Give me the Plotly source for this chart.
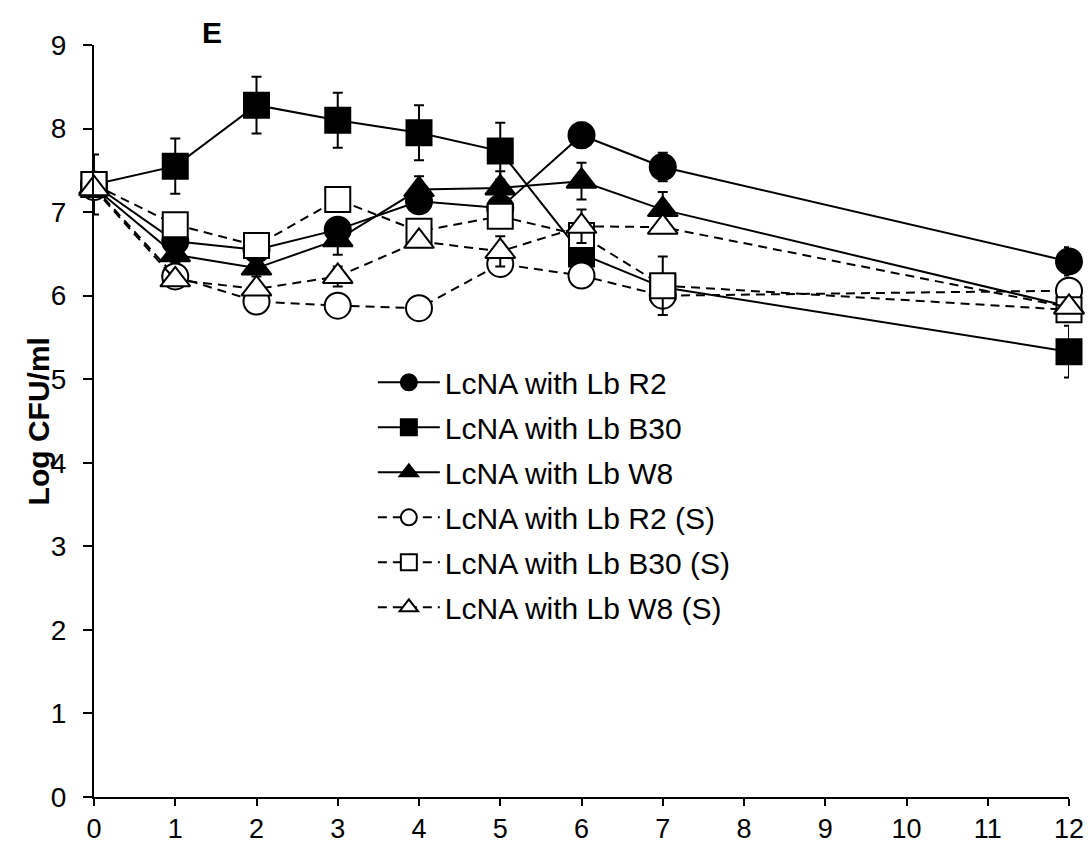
import plotly.graph_objects as go

days = [0, 1, 2, 3, 4, 5, 6, 7, 12]

r2 = [7.33, 6.65, 6.55, 6.79, 7.13, 7.05, 7.92, 7.54, 6.41]
r2_err = [0.05, 0.08, 0.05, 0.10, 0.10, 0.05, 0.15, 0.17, 0.17]

b30 = [7.33, 7.55, 8.28, 8.10, 7.95, 7.73, 6.50, 6.10, 5.33]
b30_err = [0.36, 0.33, 0.34, 0.33, 0.33, 0.34, 0.15, 0.10, 0.31]

w8 = [7.30, 6.49, 6.33, 6.67, 7.27, 7.29, 7.37, 7.03, 5.87]
w8_err = [0.05, 0.10, 0.10, 0.18, 0.16, 0.20, 0.22, 0.21, 0.10]

r2s = [7.30, 6.23, 5.93, 5.88, 5.85, 6.38, 6.24, 6.00, 6.06]
r2s_err = [0.05, 0.05, 0.05, 0.05, 0.05, 0.05, 0.05, 0.05, 0.05]

b30s = [7.33, 6.85, 6.60, 7.15, 6.77, 6.95, 6.72, 6.12, 5.83]
b30s_err = [0.05, 0.05, 0.05, 0.05, 0.05, 0.05, 0.05, 0.35, 0.05]

w8s = [7.28, 6.19, 6.08, 6.23, 6.65, 6.53, 6.83, 6.82, 5.86]
w8s_err = [0.05, 0.05, 0.05, 0.12, 0.05, 0.18, 0.20, 0.05, 0.05]

names = ["LcNA with Lb R2", "LcNA with Lb B30", "LcNA with Lb W8",
         "LcNA with Lb R2 (S)", "LcNA with Lb B30 (S)", "LcNA with Lb W8 (S)"]
series = [r2, b30, w8, r2s, b30s, w8s]
errors = [r2_err, b30_err, w8_err, r2s_err, b30s_err, w8s_err]
symbols = ["circle", "square", "triangle-up", "circle", "square", "triangle-up"]
fills = ["black", "black", "black", "white", "white", "white"]
dashes = ["solid", "solid", "solid", "9px,6px", "9px,6px", "9px,6px"]
sizes = [26, 25, 26, 26, 25, 26]

FONT = "Liberation Sans, Arial, sans-serif"

fig = go.Figure()
for i in range(6):
    fig.add_trace(go.Scatter(
        x=days, y=series[i], name=names[i], mode="lines+markers",
        legendgroup=f"g{i}",
        line=dict(color="black", width=2, dash=dashes[i]),
        marker=dict(symbol=symbols[i], size=sizes[i], color=fills[i],
                    line=dict(color="black", width=2)),
        error_y=dict(type="data", array=errors[i], visible=True,
                     color="black", thickness=2, width=5),
        cliponaxis=False,
    ))

fig.update_layout(
    width=1091, height=845,
    margin=dict(l=94, r=22, t=45, b=48, autoexpand=False),
    paper_bgcolor="white", plot_bgcolor="white",
    font=dict(family=FONT, color="black", size=28),
    showlegend=True,
    legend=dict(x=0.286, y=0.586, xanchor="left", yanchor="top",
                bgcolor="rgba(0,0,0,0)", font=dict(size=30, family=FONT),
                itemwidth=62, tracegroupgap=3, traceorder="grouped"),
    xaxis=dict(range=[0, 12], tickmode="array", tickvals=list(range(13)),
               automargin=False,
               showgrid=False, zeroline=False, showline=True,
               linecolor="black", linewidth=2, ticks="outside",
               ticklen=7, tickwidth=2, tickcolor="black",
               tickfont=dict(size=27, family=FONT)),
    yaxis=dict(range=[0, 9], tickmode="array", tickvals=list(range(10)),
               automargin=False,
               showgrid=False, zeroline=False, showline=True,
               linecolor="black", linewidth=2, ticks="outside",
               ticklen=9, tickwidth=2, tickcolor="black",
               ticklabelstandoff=11,
               tickfont=dict(size=28, family=FONT)),
    annotations=[
        dict(text="<b>E</b>", x=0.121, y=1.017, xref="paper", yref="paper",
             xanchor="center", yanchor="middle",
             showarrow=False, font=dict(size=30, family=FONT)),
        dict(text="<b>Log CFU/ml</b>", x=-0.057, y=0.5, xref="paper", yref="paper",
             xanchor="center", yanchor="middle",
             showarrow=False, textangle=-90, font=dict(size=30, family=FONT)),
    ],
)

fig.write_html("out.html")
